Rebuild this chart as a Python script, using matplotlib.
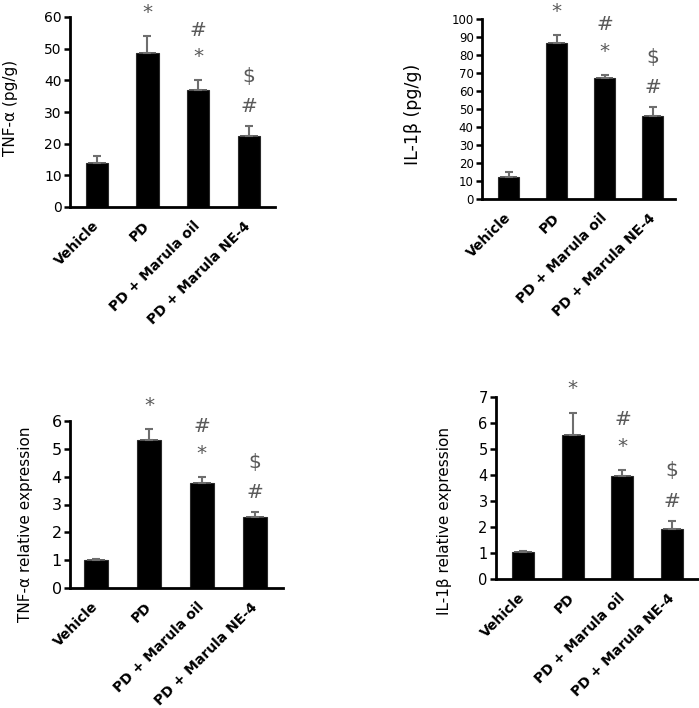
import numpy as np
import matplotlib
matplotlib.use("Agg")
import matplotlib.pyplot as plt

groups = ["Vehicle", "PD", "PD + Marula oil", "PD + Marula NE-4"]

# panel values (mean) and upper error
tnf_pg = [14.0, 48.5, 37.0, 22.5]
tnf_pg_err = [2.0, 5.5, 3.0, 3.0]
il1b_pg = [12.0, 86.5, 67.0, 46.0]
il1b_pg_err = [3.0, 4.5, 2.0, 5.0]
tnf_rel = [1.0, 5.3, 3.78, 2.55]
tnf_rel_err = [0.05, 0.4, 0.22, 0.17]
il1b_rel = [1.05, 5.55, 3.98, 1.92]
il1b_rel_err = [0.03, 0.85, 0.22, 0.33]

# significance marks, bottom to top
marks = [[], ["*"], ["*", "#"], ["#", "$"]]

W, H = 699, 708
fig = plt.figure(figsize=(W / 100, H / 100), dpi=100)


def px_axes(left, top, right, bottom):
    return fig.add_axes([left / W, 1 - bottom / H, (right - left) / W, (bottom - top) / H])


def panel(ax, vals, errs, ylim, step, ylabel, tick_fs, label_fs, label_xy, xlim):
    x = np.arange(len(groups))
    bw = 0.44
    ax.bar(x, vals, width=bw, color="black", edgecolor="#2a2a2a", linewidth=0.8, zorder=2)
    # grey sheen along the top of each bar
    ax.hlines(vals, x - bw * 0.4, x + bw * 0.4, colors="#555555", linewidth=1.3, zorder=2.5)
    ax.errorbar(x, vals, yerr=[np.zeros(len(vals)), errs], fmt="none",
                ecolor="#6e6e6e", elinewidth=1.5, capsize=3.2, capthick=1.5, zorder=3)
    for i, m in enumerate(marks):
        top = vals[i] + errs[i]
        for k, s in enumerate(m):
            off = (17 if s == "*" else 14) + 22 * k
            ax.annotate(s, (x[i], top), xytext=(0, off), textcoords="offset points",
                        ha="center", va="center", fontsize=14.5, color="#5a5a5a",
                        annotation_clip=False)
    ax.set_ylim(*ylim)
    ax.set_xlim(*xlim)
    ax.set_yticks(np.arange(ylim[0], ylim[1] + step / 2, step))
    ax.set_xticks(x)
    ax.set_xticklabels(groups, rotation=45, ha="right", va="center",
                       rotation_mode="anchor", fontweight="bold", fontsize=10,
                       fontfamily="DejaVu Sans")
    ax.tick_params(axis="x", length=0, pad=12)
    ax.tick_params(axis="y", length=4, width=1.8, labelsize=tick_fs, pad=2)
    for s in ["top", "right"]:
        ax.spines[s].set_visible(False)
    for s in ["left", "bottom"]:
        ax.spines[s].set_linewidth(2.0)
    ax.set_ylabel(ylabel, fontsize=label_fs)
    ax.yaxis.set_label_coords(*label_xy)


ax1 = px_axes(70, 17, 275, 207)
panel(ax1, tnf_pg, tnf_pg_err, (0, 60), 10, "TNF-α (pg/g)", 10, 11,
      (-0.255, 0.52), (-0.53, 3.52))

ax2 = px_axes(482, 19, 675, 199)
panel(ax2, il1b_pg, il1b_pg_err, (0, 100), 10, "IL-1β (pg/g)", 8.5, 12.5,
      (-0.31, 0.47), (-0.56, 3.46))

ax3 = px_axes(70, 421, 283, 588)
panel(ax3, tnf_rel, tnf_rel_err, (0, 6), 1, "TNF-α relative expression", 11.5, 11,
      (-0.175, 0.38), (-0.49, 3.53))

ax4 = px_axes(496, 397, 699, 579)
panel(ax4, il1b_rel, il1b_rel_err, (0, 7), 1, "IL-1β relative expression", 10.5, 11,
      (-0.215, 0.32), (-0.54, 3.54))

fig.savefig("out.png", dpi=100, facecolor="white")
